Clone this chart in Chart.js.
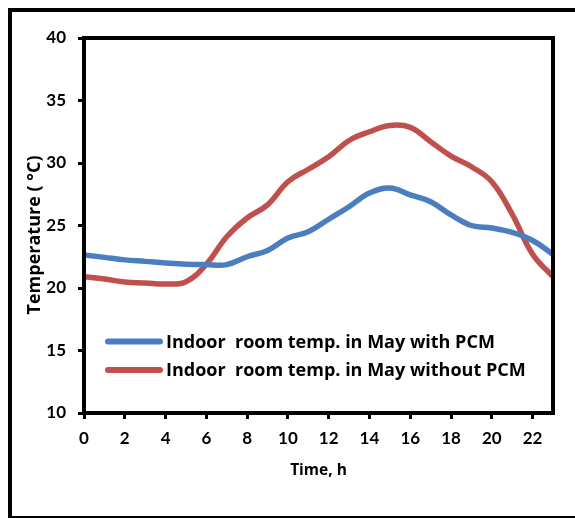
<!DOCTYPE html>
<html>
<head>
<meta charset="utf-8">
<script src="https://cdn.jsdelivr.net/npm/chart.js@4.4.1/dist/chart.umd.min.js"></script>
<style>
  html, body { margin: 0; padding: 0; background: #fff; }
</style>
</head>
<body>
<canvas id="chart01" width="575" height="518"></canvas>
<script>
// hourly indoor temperatures, May
const hours = [0, 1, 2, 3, 4, 5, 6, 7, 8, 9, 10, 11, 12, 13, 14, 15, 16, 17, 18, 19, 20, 21, 22, 23];
const withPcm = [22.65, 22.45, 22.25, 22.13, 22.0, 21.9, 21.87, 21.87, 22.5, 23.0, 24.0, 24.5,
                 25.5, 26.5, 27.6, 28.0, 27.45, 26.9, 25.85, 25.0, 24.8, 24.45, 23.8, 22.7];
const withoutPcm = [20.9, 20.72, 20.48, 20.4, 20.32, 20.5, 21.9, 24.1, 25.6, 26.65, 28.5, 29.5,
                    30.5, 31.8, 32.5, 33.0, 32.85, 31.7, 30.55, 29.7, 28.5, 25.9, 22.7, 20.9];
const hourTicks = [0, 2, 4, 6, 8, 10, 12, 14, 16, 18, 20, 22];
const tempTicks = [10, 15, 20, 25, 30, 35, 40];
const seriesNames = ['Indoor  room temp. in May with PCM', 'Indoor  room temp. in May without PCM'];
const xTitle = 'Time, h';
const yTitle = 'Temperature ( \u00B0C)';

const BLUE = '#4a7ebf';
const RED = '#c0504d';
const TICK_FONT = 'Lato';
const TEXT_FONT = "'Open Sans'";

function toPoints(ys) {
  var temp = [];
  for (var i = 0; i < hours.length; i++) {
    temp.push({ x: hours[i], y: ys[i] });
  }
  return temp;
}

// box round the plot, outer frame, legend and y title
const decor = {
  id: 'decor',
  afterDatasetsDraw(chart) {
    const ctx = chart.ctx;
    const a = chart.chartArea;
    ctx.save();
    ctx.strokeStyle = '#000';
    ctx.lineWidth = 4;
    ctx.strokeRect(a.left, a.top, a.right - a.left, a.bottom - a.top);

    ctx.lineWidth = 4;
    ctx.beginPath();
    ctx.moveTo(620, 10);
    ctx.lineTo(10, 10);
    ctx.lineTo(10, 518);
    ctx.lineTo(620, 518);
    ctx.stroke();

    // legend
    const rows = [341.5, 370];
    ctx.font = 'bold 18px ' + TEXT_FONT;
    ctx.textBaseline = 'middle';
    ctx.textAlign = 'left';
    chart.data.datasets.forEach(function (ds, i) {
      ctx.strokeStyle = ds.borderColor;
      ctx.lineWidth = 6;
      ctx.lineCap = 'round';
      ctx.beginPath();
      ctx.moveTo(108, rows[i]);
      ctx.lineTo(160, rows[i]);
      ctx.stroke();
      ctx.fillStyle = '#000';
      ctx.fillText(ds.label, 166, rows[i] + 1);
    });

    // y title
    ctx.translate(35, 235);
    ctx.rotate(-Math.PI / 2);
    ctx.font = 'bold 18px ' + TEXT_FONT;
    ctx.textAlign = 'center';
    ctx.fillText(yTitle, 0, 0);
    ctx.restore();
  }
};

var ctx = document.getElementById('chart01').getContext('2d');
var myChart = new Chart(ctx, {
  type: 'line',
  data: {
    datasets: [{
      label: seriesNames[0],
      data: toPoints(withPcm),
      borderColor: BLUE,
      borderWidth: 5.5,
      pointRadius: 0,
      tension: 0.4
    }, {
      label: seriesNames[1],
      data: toPoints(withoutPcm),
      borderColor: RED,
      borderWidth: 5.5,
      pointRadius: 0,
      tension: 0.4
    }]
  },
  options: {
    responsive: false,
    animation: false,
    devicePixelRatio: 1,
    layout: { padding: { left: 0, top: 38, right: 22, bottom: 0 } },
    plugins: {
      legend: { display: false },
      tooltip: { enabled: false }
    },
    scales: {
      x: {
        type: 'linear',
        min: 0,
        max: 23,
        afterFit: function (scale) { scale.height = 105; },
        afterBuildTicks: function (scale) {
          scale.ticks = hourTicks.map(function (v) { return { value: v }; });
        },
        border: { display: true, color: '#000', width: 4 },
        grid: { drawOnChartArea: false, drawTicks: true, tickLength: 6, lineWidth: 3, color: '#000' },
        ticks: {
          color: '#000',
          padding: 9,
          maxRotation: 0,
          font: { family: TICK_FONT, size: 17, weight: 'bold' }
        },
        title: {
          display: true,
          text: xTitle,
          color: '#000',
          padding: { top: 0, bottom: 38 },
          font: { family: TEXT_FONT, size: 15.5, weight: 'bold' }
        }
      },
      y: {
        min: 10,
        max: 40,
        afterFit: function (scale) { scale.width = 84; },
        afterBuildTicks: function (scale) {
          scale.ticks = tempTicks.map(function (v) { return { value: v }; });
        },
        border: { display: true, color: '#000', width: 4 },
        grid: { drawOnChartArea: false, drawTicks: true, tickLength: 6, lineWidth: 3, color: '#000' },
        ticks: {
          color: '#000',
          padding: 12,
          font: { family: TICK_FONT, size: 17, weight: 'bold' }
        }
      }
    }
  },
  plugins: [decor]
});
</script>
</body>
</html>
